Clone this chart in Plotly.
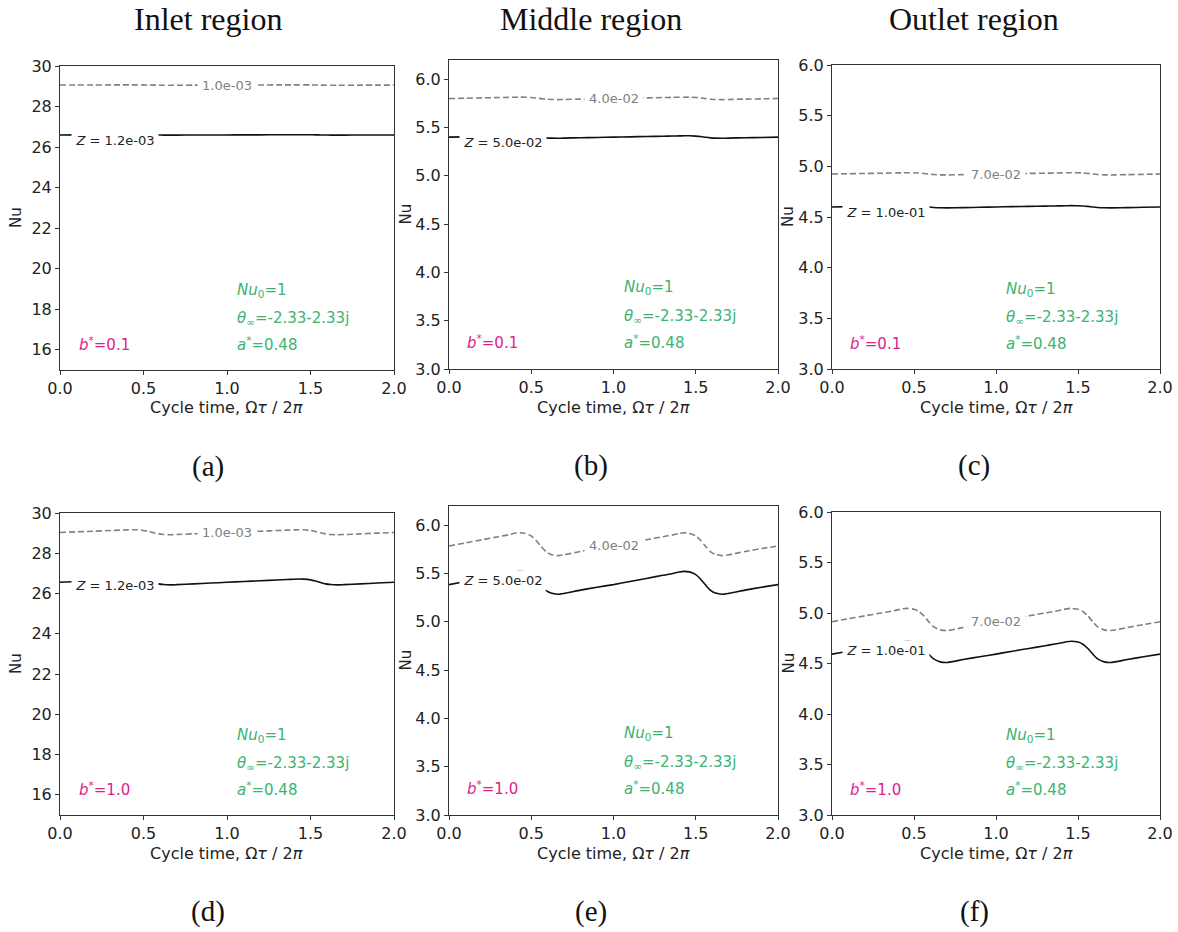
import numpy as np
import plotly.graph_objects as go

# ---- data -----------------------------------------------------------------
# cycle time, Omega*tau/2pi (two periods)
cycle_time = [0.0, 0.1, 0.2, 0.3, 0.36, 0.40, 0.43, 0.46, 0.50, 0.53, 0.56, 0.59, 0.62, 0.66, 0.70, 0.8, 0.9,
              1.0, 1.1, 1.2, 1.3, 1.36, 1.40, 1.43, 1.46, 1.50, 1.53, 1.56, 1.59, 1.62, 1.66, 1.70, 1.8, 1.9,
              2.0]

# b* = 0.1 (top row)
nu_inlet_b01_solid = [26.599, 26.601, 26.604, 26.607, 26.608, 26.610, 26.610, 26.610, 26.607, 26.603, 26.598,
                      26.593, 26.591, 26.590, 26.591, 26.594, 26.596,
                      26.599, 26.601, 26.604, 26.607, 26.608, 26.610, 26.610, 26.610, 26.607, 26.603, 26.598,
                      26.593, 26.591, 26.590, 26.591, 26.594, 26.596,
                      26.599]
nu_inlet_b01_dash = [29.059, 29.061, 29.064, 29.067, 29.068, 29.070, 29.070, 29.070, 29.067, 29.063, 29.058,
                     29.053, 29.051, 29.050, 29.051, 29.054, 29.056,
                     29.059, 29.061, 29.064, 29.067, 29.068, 29.070, 29.070, 29.070, 29.067, 29.063, 29.058,
                     29.053, 29.051, 29.050, 29.051, 29.054, 29.056,
                     29.059]
nu_middle_b01_solid = [5.401, 5.404, 5.408, 5.411, 5.413, 5.414, 5.415, 5.415, 5.412, 5.407, 5.400,
                       5.394, 5.391, 5.390, 5.391, 5.395, 5.398,
                       5.401, 5.404, 5.408, 5.411, 5.413, 5.414, 5.415, 5.415, 5.412, 5.407, 5.400,
                       5.394, 5.391, 5.390, 5.391, 5.395, 5.398,
                       5.401]
nu_middle_b01_dash = [5.801, 5.804, 5.808, 5.811, 5.813, 5.814, 5.815, 5.815, 5.812, 5.807, 5.800,
                      5.794, 5.791, 5.790, 5.791, 5.795, 5.798,
                      5.801, 5.804, 5.808, 5.811, 5.813, 5.814, 5.815, 5.815, 5.812, 5.807, 5.800,
                      5.794, 5.791, 5.790, 5.791, 5.795, 5.798,
                      5.801]
nu_outlet_b01_solid = [4.599, 4.602, 4.605, 4.607, 4.609, 4.610, 4.611, 4.612, 4.611, 4.609, 4.605,
                       4.599, 4.594, 4.591, 4.590, 4.593, 4.596,
                       4.599, 4.602, 4.605, 4.607, 4.609, 4.610, 4.611, 4.612, 4.611, 4.609, 4.605,
                       4.599, 4.594, 4.591, 4.590, 4.593, 4.596,
                       4.599]
nu_outlet_b01_dash = [4.924, 4.927, 4.930, 4.932, 4.934, 4.935, 4.936, 4.937, 4.936, 4.934, 4.930,
                      4.924, 4.919, 4.916, 4.915, 4.918, 4.921,
                      4.924, 4.927, 4.930, 4.932, 4.934, 4.935, 4.936, 4.937, 4.936, 4.934, 4.930,
                      4.924, 4.919, 4.916, 4.915, 4.918, 4.921,
                      4.924]

# b* = 1.0 (bottom row)
nu_inlet_b10_solid = [26.558, 26.596, 26.633, 26.671, 26.694, 26.713, 26.720, 26.714, 26.679, 26.621, 26.546,
                      26.479, 26.445, 26.430, 26.442, 26.482, 26.520,
                      26.558, 26.596, 26.633, 26.671, 26.694, 26.713, 26.720, 26.714, 26.679, 26.621, 26.546,
                      26.479, 26.445, 26.430, 26.442, 26.482, 26.520,
                      26.558]
nu_inlet_b10_dash = [29.030, 29.063, 29.095, 29.128, 29.148, 29.164, 29.170, 29.165, 29.135, 29.085, 29.020,
                     28.963, 28.933, 28.920, 28.930, 28.965, 28.998,
                     29.030, 29.063, 29.095, 29.128, 29.148, 29.164, 29.170, 29.165, 29.135, 29.085, 29.020,
                     28.963, 28.933, 28.920, 28.930, 28.965, 28.998,
                     29.030]
nu_middle_b10_solid = [5.386, 5.418, 5.450, 5.482, 5.501, 5.517, 5.523, 5.518, 5.490, 5.442, 5.381,
                       5.326, 5.298, 5.286, 5.295, 5.329, 5.359,
                       5.386, 5.418, 5.450, 5.482, 5.501, 5.517, 5.523, 5.518, 5.490, 5.442, 5.381,
                       5.326, 5.298, 5.286, 5.295, 5.329, 5.359,
                       5.386]
nu_middle_b10_dash = [5.786, 5.818, 5.850, 5.882, 5.901, 5.917, 5.923, 5.918, 5.890, 5.842, 5.781,
                      5.726, 5.698, 5.686, 5.695, 5.729, 5.759,
                      5.786, 5.818, 5.850, 5.882, 5.901, 5.917, 5.923, 5.918, 5.890, 5.842, 5.781,
                      5.726, 5.698, 5.686, 5.695, 5.729, 5.759,
                      5.786]
nu_outlet_b10_solid = [4.593, 4.622, 4.649, 4.676, 4.693, 4.705, 4.715, 4.720, 4.712, 4.691, 4.649,
                       4.594, 4.546, 4.516, 4.510, 4.539, 4.567,
                       4.593, 4.622, 4.649, 4.676, 4.693, 4.705, 4.715, 4.720, 4.712, 4.691, 4.649,
                       4.594, 4.546, 4.516, 4.510, 4.539, 4.567,
                       4.593]
nu_outlet_b10_dash = [4.914, 4.943, 4.972, 5.000, 5.017, 5.031, 5.041, 5.046, 5.037, 5.015, 4.971,
                      4.914, 4.863, 4.833, 4.826, 4.856, 4.885,
                      4.914, 4.943, 4.972, 5.000, 5.017, 5.031, 5.041, 5.046, 5.037, 5.015, 4.971,
                      4.914, 4.863, 4.833, 4.826, 4.856, 4.885,
                      4.914]

region_titles = ["Inlet region", "Middle region", "Outlet region"]
panel_letters = ["(a)", "(b)", "(c)", "(d)", "(e)", "(f)"]
solid_levels = ["1.2e-03", "5.0e-02", "1.0e-01"]
dash_levels = ["1.0e-03", "4.0e-02", "7.0e-02"]
b_star = ["0.1", "1.0"]
x_ticks = [0.0, 0.5, 1.0, 1.5, 2.0]
y_ranges = [[15, 30], [3.0, 6.2], [3.0, 6.0]]
y_ticks = [[16, 18, 20, 22, 24, 26, 28, 30],
           [3.0, 3.5, 4.0, 4.5, 5.0, 5.5, 6.0],
           [3.0, 3.5, 4.0, 4.5, 5.0, 5.5, 6.0]]

solid_series = [nu_inlet_b01_solid, nu_middle_b01_solid, nu_outlet_b01_solid,
                nu_inlet_b10_solid, nu_middle_b10_solid, nu_outlet_b10_solid]
dash_series = [nu_inlet_b01_dash, nu_middle_b01_dash, nu_outlet_b01_dash,
               nu_inlet_b10_dash, nu_middle_b10_dash, nu_outlet_b10_dash]

# ---- layout geometry (pixels in a 1178 x 932 page) -------------------------
W, H = 1178, 932
col_px = [(60, 394), (449, 778), (832, 1160)]
row_px = [[(66, 370), (60, 369), (65, 369)],
          [(513, 815), (506, 815), (512, 815)]]
title_cx = [208, 591, 974]

SANS = "DejaVu Sans"
SERIF = "Liberation Serif"
GREEN = "#3cb371"
PINK = "#e0218a"
AXIS = "#333333"

fig = go.Figure()
annotations = []


def paper_text(px, py, text, font, angle=0):
    """Centred text placed in page pixels."""
    return dict(x=px / W, y=(H - py) / H, xref="paper", yref="paper", xanchor="center",
                yanchor="middle", text=text, showarrow=False, textangle=angle, font=font)


for r in range(2):
    for c in range(3):
        k = r * 3 + c
        ax = "" if k == 0 else str(k + 1)
        xa, ya = "x" + ax, "y" + ax
        x0, x1 = col_px[c]
        top, bot = row_px[r][c]
        dom_x = [x0 / W, x1 / W]
        dom_y = [(H - bot) / H, (H - top) / H]

        fig.add_trace(go.Scatter(x=cycle_time, y=dash_series[k], mode="lines",
                                 line=dict(color="#808080", width=1.6, dash="6px,3px", shape="spline",
                                           smoothing=0.6),
                                 xaxis=xa, yaxis=ya, showlegend=False, hoverinfo="skip"))
        fig.add_trace(go.Scatter(x=cycle_time, y=solid_series[k], mode="lines",
                                 line=dict(color="#111111", width=1.6, shape="spline", smoothing=0.6),
                                 xaxis=xa, yaxis=ya, showlegend=False, hoverinfo="skip"))

        fig.layout["xaxis" + ax] = dict(
            domain=dom_x, range=[0, 2], anchor=ya, tickvals=x_ticks, tickformat=".1f",
            showline=True, mirror=True, linecolor=AXIS, linewidth=1, ticks="outside",
            ticklen=4, tickcolor=AXIS, showgrid=False, zeroline=False, automargin=False,
            tickfont=dict(family=SANS, size=16, color="#222"))
        fig.layout["yaxis" + ax] = dict(
            domain=dom_y, range=y_ranges[c], anchor=xa, tickvals=y_ticks[c],
            tickformat=".0f" if c == 0 else ".1f",
            showline=True, mirror=True, linecolor=AXIS, linewidth=1, ticks="outside",
            ticklen=4, tickcolor=AXIS, showgrid=False, zeroline=False, automargin=False,
            tickfont=dict(family=SANS, size=16, color="#222"))

        # inline contour labels
        ys = float(np.interp(0.33, cycle_time, solid_series[k]))
        annotations.append(dict(x=0.33, y=ys, xref=xa, yref=ya, yshift=-6, showarrow=False,
                                xanchor="center", yanchor="middle",
                                text="<i>Z</i> = " + solid_levels[c], bgcolor="white", width=84,
                                height=17, font=dict(family=SANS, size=13, color="#222")))
        yd = float(np.interp(1.0, cycle_time, dash_series[k]))
        annotations.append(dict(x=1.0, y=yd, xref=xa, yref=ya, showarrow=False,
                                xanchor="center", yanchor="middle",
                                text=dash_levels[c], bgcolor="white", width=56, height=15,
                                font=dict(family=SANS, size=13, color="#808080")))

        # parameter text
        pax = dict(xref=xa, yref=ya + " domain", showarrow=False, xanchor="left", yanchor="middle")
        annotations.append(dict(x=1.05, y=0.263, text="<i>Nu</i><sub>0</sub>=1",
                                font=dict(family=SANS, size=15, color=GREEN), **pax))
        annotations.append(dict(x=1.05, y=0.171, text="<i>θ</i><sub>∞</sub>=-2.33-2.33j",
                                font=dict(family=SANS, size=15, color=GREEN), **pax))
        annotations.append(dict(x=1.05, y=0.086, text="<i>a</i><sup>*</sup>=0.48",
                                font=dict(family=SANS, size=15, color=GREEN), **pax))
        annotations.append(dict(x=0.1, y=0.086, text="<i>b</i><sup>*</sup>=" + b_star[r],
                                font=dict(family=SANS, size=15, color=PINK), **pax))

        # axis titles
        annotations.append(paper_text(x0 - 44, (top + bot) / 2, "Nu",
                                      dict(family=SANS, size=15, color="#222"), angle=-90))
        annotations.append(paper_text((x0 + x1) / 2, bot + 38, "Cycle time, Ω<i>τ</i> / 2<i>π</i>",
                                      dict(family=SANS, size=16, color="#222")))
        # panel letter
        annotations.append(paper_text(title_cx[c], bot + 96, panel_letters[k],
                                      dict(family=SERIF, size=29, color="#111")))

for c in range(3):
    annotations.append(paper_text(title_cx[c], 19, region_titles[c],
                                  dict(family=SERIF, size=32, color="#111")))

fig.update_layout(width=W, height=H, margin=dict(l=0, r=0, t=0, b=0, autoexpand=False),
                  paper_bgcolor="white", plot_bgcolor="white",
                  annotations=annotations, showlegend=False)

fig.write_html("out.html")
